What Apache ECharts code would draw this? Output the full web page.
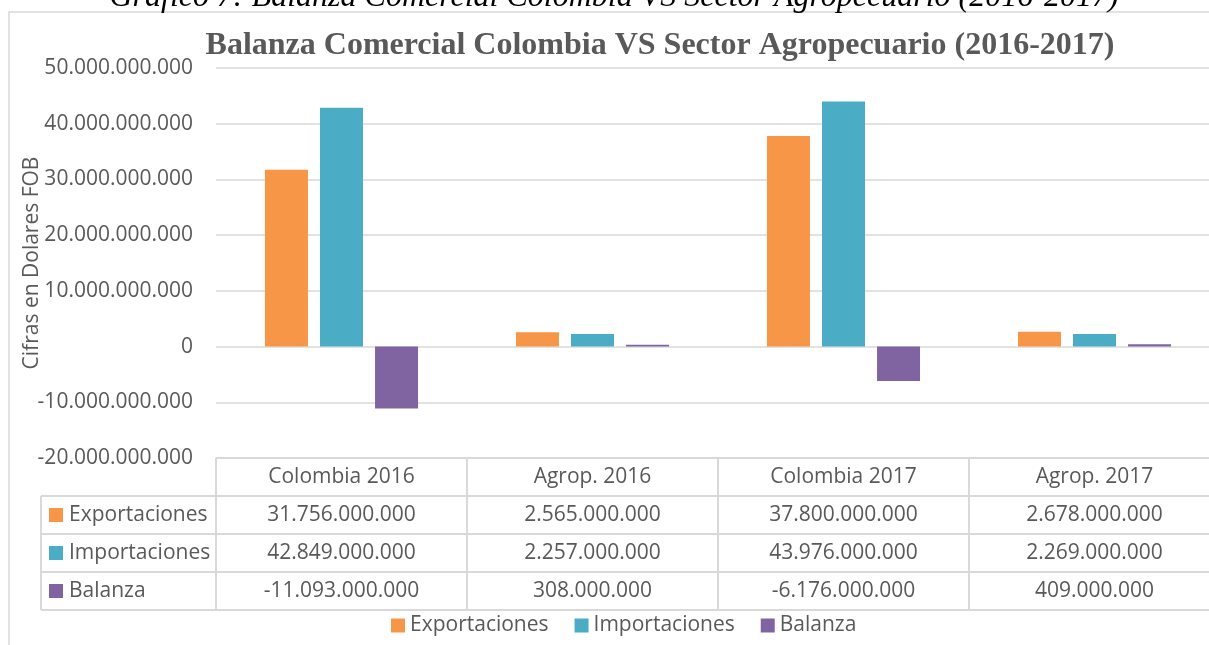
<!DOCTYPE html>
<html>
<head>
<meta charset="utf-8">
<script src="https://cdn.jsdelivr.net/npm/echarts@6/dist/echarts.min.js"></script>
<style>
html,body{margin:0;padding:0;background:#fff;}
#main{width:1209px;height:645px;}
</style>
</head>
<body>
<div id="main"></div>
<script>
// ---- data ----
var categories = ['Colombia 2016', 'Agrop. 2016', 'Colombia 2017', 'Agrop. 2017'];
var exportaciones = [31756000000, 2565000000, 37800000000, 2678000000];
var importaciones = [42849000000, 2257000000, 43976000000, 2269000000];
var balanza = [-11093000000, 308000000, -6176000000, 409000000];
var seriesNames = ['Exportaciones', 'Importaciones', 'Balanza'];
var yTicks = [-20000000000, -10000000000, 0, 10000000000, 20000000000, 30000000000, 40000000000, 50000000000];

var colors = ['#F79646', '#4BACC6', '#8064A2'];
var TXT = '#595959';
var LINE = '#d9d9d9';
var FONT = '"Open Sans", sans-serif';
var FS = 21;

function fmt(v) {
  var s = String(Math.abs(v)).replace(/\B(?=(\d{3})+(?!\d))/g, '.');
  return (v < 0 ? '-' : '') + s;
}

var chart = echarts.init(document.getElementById('main'), null, {renderer: 'canvas'});
var seriesData = [exportaciones, importaciones, balanza];

var option = {
  animation: false,
  textStyle: {fontFamily: FONT},
  grid: {left: 216, width: 1004, top: 68, height: 390, containLabel: false, outerBoundsMode: 'none'},
  legend: {
    left: 386, top: 610,
    icon: 'rect', itemWidth: 14, itemHeight: 14, itemGap: 26,
    textStyle: {color: TXT, fontSize: FS, fontFamily: FONT},
    data: seriesNames
  },
  xAxis: {
    type: 'category', data: categories,
    axisLine: {show: false}, axisTick: {show: false}, axisLabel: {show: false},
    splitLine: {show: false}
  },
  yAxis: {
    type: 'value', min: yTicks[0], max: yTicks[yTicks.length - 1], interval: 10000000000,
    name: 'Cifras en Dolares FOB', nameLocation: 'middle', nameRotate: 90, nameGap: 173,
    nameMoveOverlap: false,
    nameTextStyle: {color: TXT, fontSize: FS, fontFamily: FONT},
    axisLine: {show: false}, axisTick: {show: false},
    axisLabel: {color: TXT, fontSize: FS, fontFamily: FONT, margin: 23, formatter: fmt},
    splitLine: {lineStyle: {color: LINE, width: 1.5}}
  },
  series: seriesNames.map(function (n, i) {
    return {
      name: n, type: 'bar', data: seriesData[i],
      barWidth: 43, barGap: '28%',
      itemStyle: {color: colors[i]}
    };
  })
};
chart.setOption(option);

// ---- data table & decorations, positioned from the library's scales ----
var centers = categories.map(function (c) { return chart.convertToPixel({xAxisIndex: 0}, c); });
var band = centers[1] - centers[0];
var tableTop = chart.convertToPixel({yAxisIndex: 0}, yTicks[0]);
var rowH = 38;
var colLeft = centers[0] - band / 2;
var colRight = centers[centers.length - 1] + band / 2;
var labelLeft = 41;

var g = [];
// outer chart border
g.push({type: 'rect', shape: {x: 9, y: 12, width: 1400, height: 800}, style: {fill: 'none', stroke: LINE, lineWidth: 1.5}, silent: true});
// caption (cut off at top)
g.push({type: 'text', x: 614, y: -2, style: {text: 'Gráfico 7: Balanza Comercial Colombia VS Sector Agropecuario (2016-2017)', fill: '#000', font: 'italic 32px "Liberation Serif", serif', align: 'center', verticalAlign: 'middle'}});
// title
g.push({type: 'text', x: 660, y: 46, style: {text: 'Balanza Comercial Colombia VS Sector Agropecuario (2016-2017)', fill: TXT, font: 'bold 32px "Liberation Serif", serif', align: 'center', verticalAlign: 'middle'}});

// horizontal lines
for (var r = 0; r <= 4; r++) {
  var y = tableTop + r * rowH;
  var x0 = r === 0 ? colLeft : labelLeft;
  g.push({type: 'line', shape: {x1: x0, y1: y, x2: colRight, y2: y}, style: {stroke: LINE, lineWidth: 2}, silent: true});
}
// vertical lines
g.push({type: 'line', shape: {x1: labelLeft, y1: tableTop + rowH, x2: labelLeft, y2: tableTop + 4 * rowH}, style: {stroke: LINE, lineWidth: 2}});
for (var c = 0; c <= categories.length; c++) {
  var x = colLeft + c * band;
  g.push({type: 'line', shape: {x1: x, y1: tableTop, x2: x, y2: tableTop + 4 * rowH}, style: {stroke: LINE, lineWidth: 2}});
}
// header
categories.forEach(function (cat, i) {
  g.push({type: 'text', x: centers[i], y: tableTop + rowH / 2, style: {text: cat, fill: TXT, font: FS + 'px ' + FONT, align: 'center', verticalAlign: 'middle'}});
});
// rows
seriesNames.forEach(function (n, s) {
  var cy = tableTop + (s + 1) * rowH + rowH / 2;
  g.push({type: 'rect', shape: {x: 49, y: cy - 7, width: 14, height: 14}, style: {fill: colors[s]}});
  g.push({type: 'text', x: 69, y: cy, style: {text: n, fill: TXT, font: FS + 'px ' + FONT, align: 'left', verticalAlign: 'middle'}});
  seriesData[s].forEach(function (v, i) {
    g.push({type: 'text', x: centers[i], y: cy, style: {text: fmt(v), fill: TXT, font: FS + 'px ' + FONT, align: 'center', verticalAlign: 'middle'}});
  });
});

chart.setOption({graphic: g});
</script>
</body>
</html>
